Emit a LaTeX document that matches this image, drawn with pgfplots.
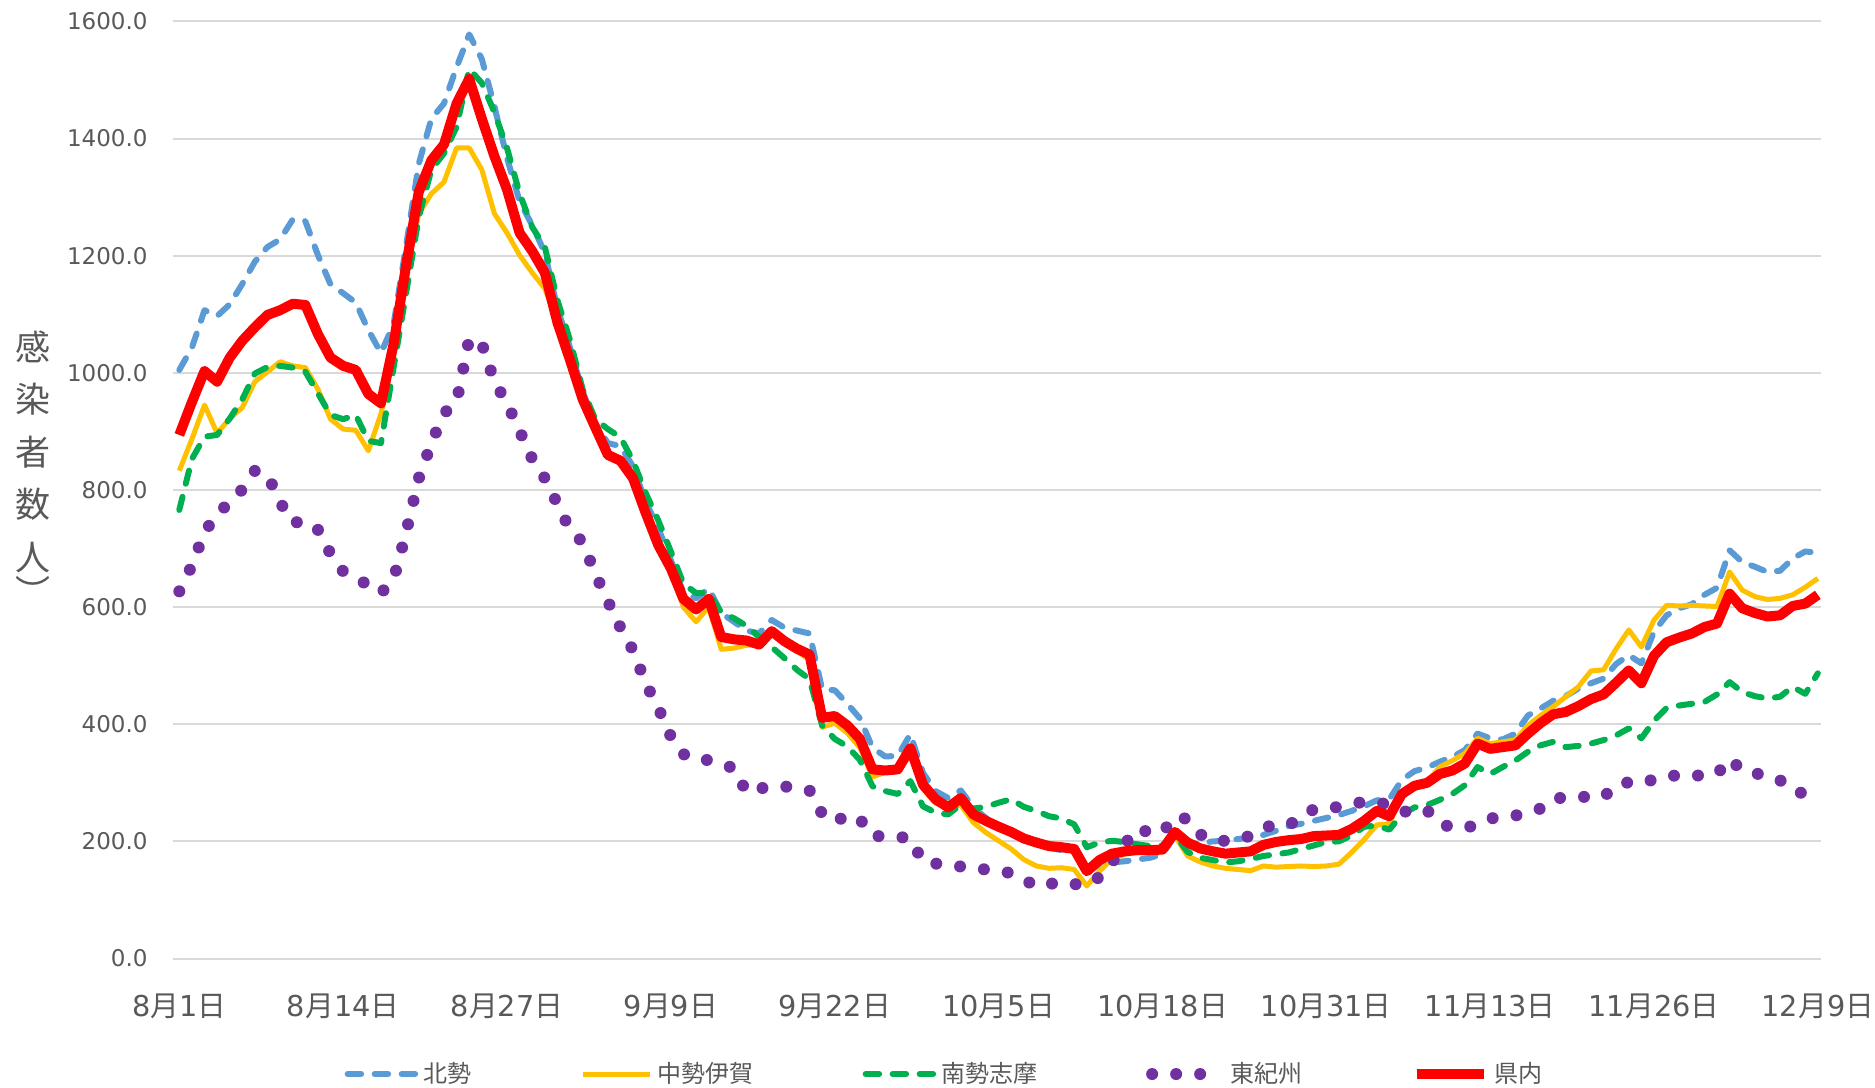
\documentclass[border=0pt]{standalone}
\usepackage{fontspec}
\setmainfont{DejaVu Sans}
\newfontfamily\cjk{Noto Sans CJK JP}
\usepackage{pgfplots}
\usepackage{pgfplotstable}
\pgfplotsset{compat=1.18}
\definecolor{cblue}{HTML}{5B9BD5}
\definecolor{cyellow}{HTML}{FFC000}
\definecolor{cgreen}{HTML}{00B050}
\definecolor{cpurple}{HTML}{7030A0}
\definecolor{cred}{HTML}{FF0000}
\definecolor{textgray}{HTML}{595959}
\definecolor{gridgray}{HTML}{D9D9D9}

\pgfplotstableread{
d hok chu nan hig ken
0 1005 833 766 627 894
1 1043 887 853 671 950
2 1107 945 891 728 1003
3 1097 897 894 759 985
4 1117 922 922 779 1026
5 1152 941 955 801 1055
6 1190 985 999 833 1078
7 1215 1002 1010 826 1099
8 1228 1019 1012 779 1107
9 1262 1012 1009 744 1118
10 1259 1009 1002 747 1116
11 1201 972 965 732 1066
12 1151 921 928 691 1026
13 1136 904 921 661 1012
14 1120 902 928 649 1005
15 1073 867 884 638 964
16 1034 930 880 624 948
17 1083 1030 1009 647 1049
18 1218 1170 1137 728 1184
19 1357 1272 1266 820 1309
20 1434 1306 1347 880 1363
21 1460 1326 1375 931 1390
22 1522 1384 1420 950 1460
23 1578 1384 1519 1058 1502
24 1536 1347 1495 1050 1434
25 1455 1272 1445 985 1370
26 1367 1239 1384 948 1313
27 1293 1201 1306 901 1239
28 1252 1171 1249 853 1208
29 1205 1144 1215 820 1171
30 1110 1086 1124 776 1086
31 1043 1022 1056 732 1022
32 968 958 972 711 955
33 914 910 921 657 907
34 880 862 904 610 860
35 875 848 890 565 850
36 840 818 850 526 820
37 780 758 795 470 761
38 735 700 748 428 706
39 680 660 695 379 666
40 625 600 640 349 614
41 615 575 624 339 596
42 632 600 624 339 614
43 590 528 591 332 549
44 575 530 581 325 545
45 560 535 568 284 543
46 555 535 549 290 536
47 578 555 532 294 559
48 565 540 513 294 542
49 560 525 493 290 529
50 555 510 477 287 519
51 460 395 398 247 411
52 458 402 375 233 414
53 435 385 362 245 398
54 410 360 339 238 375
55 360 310 294 209 323
56 345 318 286 209 321
57 346 320 281 208 323
58 383 350 303 205 359
59 317 290 260 165 297
60 286 265 249 162 272
61 274 258 246 161 258
62 287 262 263 157 274
63 258 232 256 154 246
64 240 215 259 152 235
65 229 201 266 149 225
66 218 187 272 146 216
67 202 169 259 135 205
68 196 158 252 123 198
69 189 154 243 127 192
70 185 155 239 131 190
71 183 152 229 127 187
72 149 124 190 126 149
73 160 149 198 139 168
74 164 170 201 164 179
75 166 178 199 195 183
76 169 183 195 222 185
77 172 185 192 215 185
78 178 190 193 215 186
79 210 210 210 243 216
80 195 175 182 238 198
81 197 165 172 212 188
82 200 158 168 201 183
83 201 154 164 201 179
84 204 152 166 205 181
85 207 150 170 209 183
86 211 158 175 223 194
87 218 156 178 229 199
88 226 157 181 228 202
89 230 158 187 240 204
90 235 157 193 255 209
91 240 158 199 256 210
92 245 161 200 259 211
93 252 181 210 263 221
94 260 203 225 268 235
95 270 228 227 266 252
96 272 230 220 263 243
97 305 280 246 252 281
98 320 291 258 248 295
99 326 302 262 253 300
100 336 327 271 230 315
101 344 338 281 224 321
102 356 350 296 222 333
103 384 376 327 230 367
104 376 367 315 239 358
105 374 370 327 242 361
106 384 373 338 244 364
107 415 398 353 250 384
108 427 415 364 256 402
109 440 430 370 273 417
110 448 447 361 275 421
111 461 464 363 276 431
112 470 491 367 276 443
113 478 493 373 276 451
114 503 529 381 296 471
115 518 561 393 301 492
116 504 532 376 299 470
117 558 578 406 306 517
118 586 603 428 311 540
119 598 602 432 313 548
120 605 603 435 312 555
121 621 602 438 313 566
122 633 601 451 315 572
123 697 660 472 341 623
124 677 629 455 321 598
125 669 618 448 316 590
126 660 613 444 313 584
127 662 615 447 304 586
128 683 621 464 296 602
129 695 634 452 276 606
130 693 649 487 268 621
}\data

\newcommand{\md}[2]{#1{\cjk 月}#2{\cjk 日}}

\begin{document}
\begin{tikzpicture}
\begin{axis}[
  at={(0,0)}, anchor=south west,
  scale only axis, width=659.2pt, height=374.8pt,
  xmin=-0.5, xmax=130.25, ymin=0, ymax=1600,
  axis line style={draw=none},
  ytick={0,200,...,1600},
  ymajorgrids, grid style={color=gridgray, line width=0.8pt},
  major tick length=0pt,
  xtick={0,13,...,130},
  xticklabels={\md{8}{1},\md{8}{14},\md{8}{27},\md{9}{9},\md{9}{22},\md{10}{5},\md{10}{18},\md{10}{31},\md{11}{13},\md{11}{26},\md{12}{9}},
  xticklabel style={font=\fontsize{11.5}{13}\selectfont, text=textgray, anchor=base, inner sep=0pt, yshift=-23pt},
  yticklabel style={font=\fontsize{9.2}{11}\selectfont, text=textgray, anchor=east, inner sep=0pt, xshift=-10pt,
    /pgf/number format/.cd, fixed, fixed zerofill, precision=1, 1000 sep={}, assume math mode=true},
  no marks,
  legend columns=-1,
  legend image code/.code={\draw[#1] (0pt,0pt) -- (27pt,0pt);},
  legend style={at={(0.469,-0.1233)}, anchor=center, draw=none, fill=none,
    font=\cjk\fontsize{9.6}{11}\selectfont, text=textgray,
    /tikz/every even column/.append style={column sep=41.6pt},
    /tikz/every odd column/.append style={column sep=0pt}},
]
\addplot[cblue, line width=2.4pt, line cap=round, line join=round, dash pattern=on 5.4pt off 5.4pt] table[x=d,y=hok]{\data};
\addlegendentry{北勢}
\addplot[cyellow, line width=2pt, line join=round] table[x=d,y=chu]{\data};
\addlegendentry{中勢伊賀}
\addplot[cgreen, line width=2.4pt, line cap=round, line join=round, dash pattern=on 5.4pt off 5.4pt] table[x=d,y=nan]{\data};
\addlegendentry{南勢志摩}
\addplot[cpurple, line width=4.8pt, line cap=round, dash pattern=on 0pt off 9.6pt] table[x=d,y=hig]{\data};
\addlegendentry{東紀州}
\addplot[cred, line width=4pt, line join=round] table[x=d,y=ken]{\data};
\addlegendentry{県内}
\end{axis}
\node[font=\cjk\fontsize{14}{21}\selectfont, text=textgray, align=center, inner sep=0pt] at (-56pt,202.8pt) {感\\染\\者\\数\\人};
\node[font=\cjk\fontsize{14}{21}\selectfont, text=textgray, inner sep=0pt] at (-56pt,147pt) {︶};
\pgfresetboundingbox
\path[use as bounding box] (-69.2pt,-51.4pt) rectangle (680.8pt,383.4pt);
\end{tikzpicture}
\end{document}
